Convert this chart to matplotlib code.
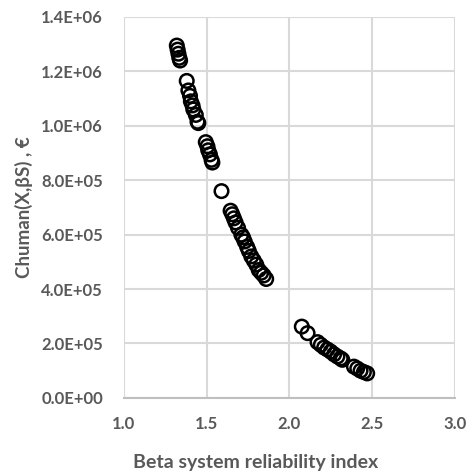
import numpy as np
import matplotlib.pyplot as plt
from matplotlib.ticker import FuncFormatter

# beta system reliability index vs human cost
beta = [1.32, 1.325, 1.33, 1.335, 1.34,
        1.38, 1.39, 1.40, 1.405, 1.415, 1.42, 1.435, 1.445, 1.45,
        1.495, 1.505, 1.51, 1.52, 1.53, 1.535,
        1.59,
        1.645, 1.655, 1.665, 1.675, 1.69, 1.71, 1.72, 1.73, 1.745, 1.755,
        1.77, 1.785, 1.80, 1.815, 1.83, 1.845, 1.86,
        2.075, 2.11, 2.17, 2.19, 2.21, 2.23, 2.25, 2.27, 2.29, 2.31, 2.32,
        2.39, 2.41, 2.43, 2.45, 2.47]
chuman = [1.295e6, 1.28e6, 1.265e6, 1.25e6, 1.24e6,
          1.165e6, 1.13e6, 1.11e6, 1.09e6, 1.075e6, 1.06e6, 1.04e6, 1.015e6, 1.01e6,
          0.94e6, 0.925e6, 0.91e6, 0.895e6, 0.875e6, 0.865e6,
          0.76e6,
          0.688e6, 0.675e6, 0.66e6, 0.645e6, 0.625e6, 0.60e6, 0.59e6, 0.575e6, 0.555e6, 0.54e6,
          0.52e6, 0.505e6, 0.49e6, 0.47e6, 0.46e6, 0.45e6, 0.437e6,
          0.262e6, 0.238e6, 0.205e6, 0.195e6, 0.185e6, 0.178e6, 0.17e6, 0.16e6, 0.152e6, 0.145e6, 0.14e6,
          0.115e6, 0.108e6, 0.10e6, 0.095e6, 0.09e6]

plt.rcParams['font.family'] = ['Lato', 'DejaVu Sans']
grey = '#595959'

fig = plt.figure(figsize=(4.69, 4.72), dpi=100)
ax = fig.add_axes([0.264, 0.157, 0.706, 0.807])
ax.scatter(beta, chuman, s=95, facecolors='none', edgecolors='black', linewidths=1.8, zorder=3)

ax.set_xlim(1.0, 3.0)
ax.set_ylim(0, 1.4e6)
ax.set_xticks([1.0, 1.5, 2.0, 2.5, 3.0])
ax.set_yticks(np.arange(0, 1.41e6, 2e5))
ax.xaxis.set_major_formatter(FuncFormatter(lambda v, p: f'{v:.1f}'))
ax.yaxis.set_major_formatter(FuncFormatter(lambda v, p: f'{v:.1E}'))
ax.grid(True, color='#d9d9d9', linewidth=1.5)
ax.set_axisbelow(True)
for side in ['top', 'right', 'left']:
    ax.spines[side].set_visible(False)
ax.spines['bottom'].set_color('#bfbfbf')
ax.spines['bottom'].set_linewidth(1.5)
ax.tick_params(length=0, labelsize=12, colors=grey)
ax.tick_params(axis='y', pad=15)
ax.tick_params(axis='x', pad=13)
for lbl in ax.get_xticklabels() + ax.get_yticklabels():
    lbl.set_fontweight('bold')

ax.set_xlabel('Beta system reliability index', fontsize=14, fontweight='bold', color=grey)
ax.xaxis.set_label_coords(0.399, -0.148)
ax.set_ylabel('Chuman(X,βS) , €', fontsize=13.5, fontweight='bold', color=grey, labelpad=6)

plt.savefig('out.png', dpi=100)
